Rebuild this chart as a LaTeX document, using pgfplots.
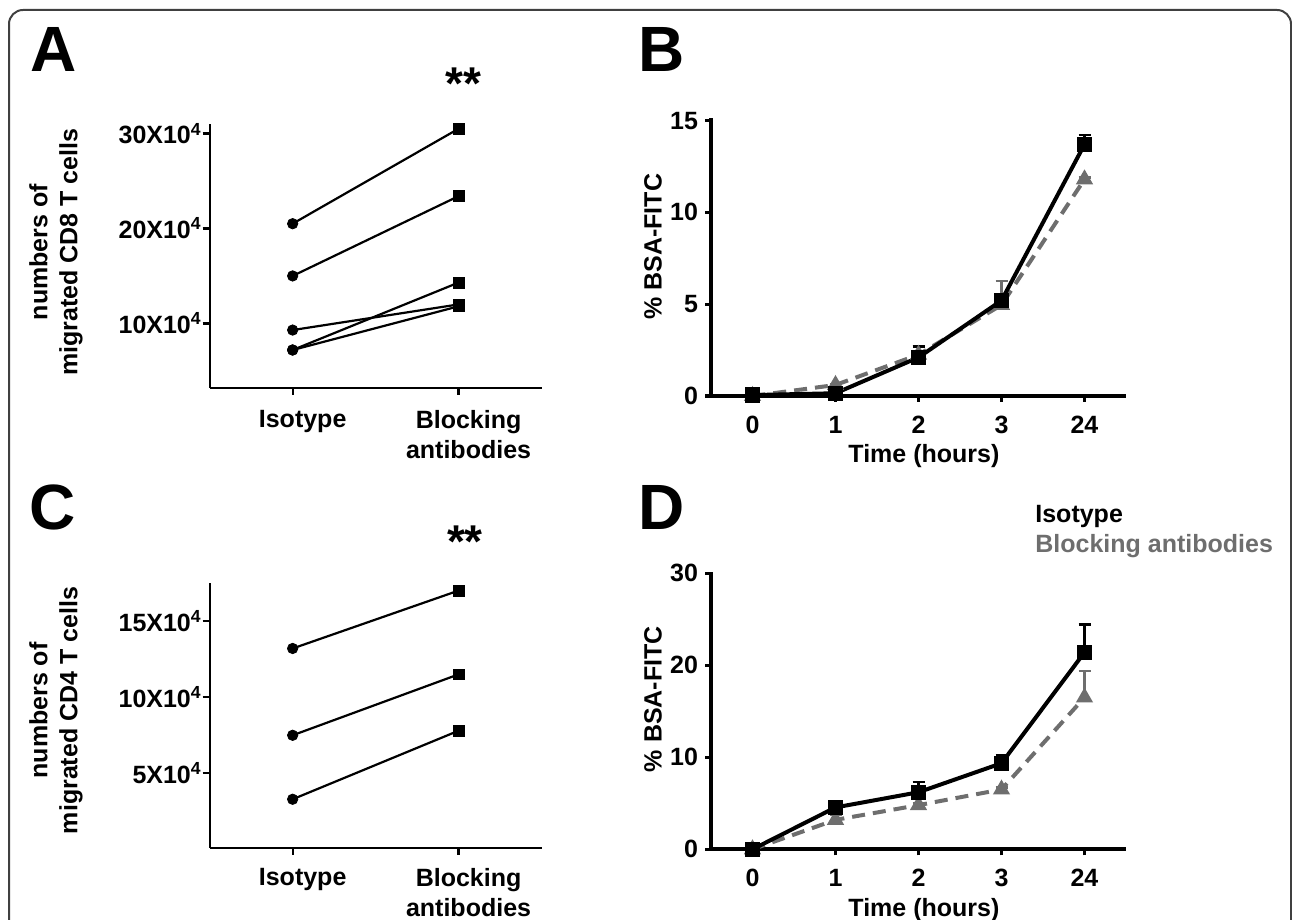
\documentclass[border=0pt]{standalone}
\usepackage{fontspec}
\setmainfont{Liberation Sans}
\usepackage{pgfplots}
\usepackage{pgfplotstable}
\pgfplotsset{compat=1.18}
\definecolor{gr}{RGB}{110,110,110}

% Panel A: paired values (x10^4)
\pgfplotstableread{
iso blk
20.5 30.5
15.0 23.4
9.3 12.0
7.2 14.3
7.2 11.8
}\Adata
% Panel C: paired values (x10^4)
\pgfplotstableread{
iso blk
13.2 17.0
7.5 11.5
3.3 7.8
}\Cdata
% Panel B
\pgfplotstableread{
x y e
0 0.05 0
1 0.15 0.05
2 2.1 0.6
3 5.2 0.15
4 13.7 0.5
}\BIso
\pgfplotstableread{
x y e
0 0.0 0
1 0.6 0.05
2 2.25 0.45
3 4.96 1.3
4 11.8 0.1
}\BBlk
% Panel D
\pgfplotstableread{
x y e
0 0.0 0
1 4.55 0.25
2 6.2 1.1
3 9.35 0.85
4 21.4 3.05
}\DIso
\pgfplotstableread{
x y e
0 0.0 0
1 3.2 0.5
2 4.8 0.2
3 6.5 0.2
4 16.5 2.9
}\DBlk

\pgfplotsset{
  every axis/.append style={font=\fontsize{12.5}{15}\selectfont\bfseries},
  pairaxis/.style={
    scale only axis, anchor=south west, width=165.9pt,
    xmin=-0.5, xmax=1.5, clip=false,
    axis x line=bottom, axis y line=left,
    axis line style={-, line width=1.1pt, black},
    xtick={0,1}, xticklabels={Isotype, Blocking\\antibodies},
    tick align=outside, major tick length=3.5pt,
    tick style={line width=1.1pt, black},
    xticklabel style={align=center, yshift=-4pt, xshift=5pt},
    yticklabel style={xshift=3pt},
    ylabel style={align=center, anchor=center},
  },
  timeaxis/.style={
    scale only axis, anchor=south west, width=207.5pt,
    xmin=-0.5, xmax=4.5, ymin=0, clip=false,
    axis x line=bottom, axis y line=left,
    axis line style={-, line width=2pt, black},
    xtick={0,1,2,3,4}, xticklabels={0,1,2,3,24},
    tick align=outside, major tick length=3pt,
    tick style={line width=1.6pt, black},
    xticklabel style={yshift=-3.5pt},
    xlabel={Time (hours)}, ylabel={\% BSA-FITC},
    xlabel style={at={(axis description cs:0.513,-0.241)}, anchor=base},
  },
  isoplot/.style={black, solid, line width=2pt, mark=square*, mark size=2.8pt,
    error bars/y dir=plus, error bars/y explicit,
    error bars/error bar style={solid, line width=1.2pt, black},
    error bars/error mark options={rotate=90, mark size=3pt, line width=1.2pt, black}},
  blkplot/.style={gr, line width=2pt, dash pattern=on 6.5pt off 4pt,
    mark=triangle*, mark size=3pt, mark options={solid, fill=gr},
    error bars/y dir=plus, error bars/y explicit,
    error bars/error bar style={solid, line width=1.2pt, gr},
    error bars/error mark options={rotate=90, mark size=3pt, line width=1.2pt, gr, solid}},
}

\begin{document}
\begin{tikzpicture}[font=\fontsize{12.5}{15}\selectfont\bfseries]
\useasboundingbox (0,0) rectangle (646pt,460pt);
\begin{scope}
\clip (0,0) rectangle (646pt,460pt);
\draw[line width=1pt, black!75, rounded corners=7pt] (4.5pt,-20pt) rectangle (645.5pt,455pt);
\end{scope}

% ---------- Panel A ----------
\begin{axis}[pairaxis, at={(104.85pt,266pt)}, height=132pt,
  ymin=3.2, ymax=31,
  ytick={10,20,30},
  yticklabels={10X10\textsuperscript{4},20X10\textsuperscript{4},30X10\textsuperscript{4}},
  ylabel={numbers of\\migrated CD8 T cells},
  ylabel style={at={(axis description cs:-0.463,0.515)}},
]
\addplot[black, line width=1.1pt] coordinates {(0,20.5) (1,30.5)};
\addplot[black, line width=1.1pt] coordinates {(0,15.0) (1,23.4)};
\addplot[black, line width=1.1pt] coordinates {(0,9.3) (1,12.0)};
\addplot[black, line width=1.1pt] coordinates {(0,7.2) (1,14.3)};
\addplot[black, line width=1.1pt] coordinates {(0,7.2) (1,11.8)};
\addplot[only marks, black, mark=*, mark size=2.6pt] table[x expr=0, y=iso] {\Adata};
\addplot[only marks, black, mark=square*, mark size=2.7pt] table[x expr=1, y=blk] {\Adata};
\end{axis}

% ---------- Panel C ----------
\begin{axis}[pairaxis, at={(104.85pt,36pt)}, height=132.5pt,
  ymin=0.1, ymax=17.5,
  ytick={5,10,15},
  yticklabels={5X10\textsuperscript{4},10X10\textsuperscript{4},15X10\textsuperscript{4}},
  xticklabel style={yshift=1pt},
  ylabel={numbers of\\migrated CD4 T cells},
  ylabel style={at={(axis description cs:-0.463,0.519)}},
]
\addplot[black, line width=1.1pt] coordinates {(0,13.2) (1,17.0)};
\addplot[black, line width=1.1pt] coordinates {(0,7.5) (1,11.5)};
\addplot[black, line width=1.1pt] coordinates {(0,3.3) (1,7.8)};
\addplot[only marks, black, mark=*, mark size=2.6pt] table[x expr=0, y=iso] {\Cdata};
\addplot[only marks, black, mark=square*, mark size=2.7pt] table[x expr=1, y=blk] {\Cdata};
\end{axis}

% ---------- Panel B ----------
\begin{axis}[timeaxis, at={(355.5pt,262pt)}, height=138.9pt,
  ymax=15.13, ytick={0,5,10,15}, yticklabels={0,5,10,15},
  ylabel style={at={(axis description cs:-0.14,0.537)}, anchor=center},
]
\addplot[blkplot] table[x=x, y=y, y error=e] {\BBlk};
\addplot[isoplot] table[x=x, y=y, y error=e] {\BIso};
\end{axis}

% ---------- Panel D ----------
\begin{axis}[timeaxis, at={(355.5pt,35.35pt)}, height=138.8pt,
  ymax=30.17, ytick={0,10,20,30}, yticklabels={0,10,20,30},
  ylabel style={at={(axis description cs:-0.14,0.541)}, anchor=center},
  legend style={at={(axis description cs:0.7807,1.2453)}, anchor=north west,
    draw=none, fill=none, inner sep=0pt, row sep=3.4pt,
    nodes={inner sep=0pt, text height=9pt, text depth=2.6pt},
    font=\fontsize{12.5}{15}\selectfont\bfseries},
  legend cell align=left,
]
\addplot[forget plot, blkplot] table[x=x, y=y, y error=e] {\DBlk};
\addplot[forget plot, isoplot] table[x=x, y=y, y error=e] {\DIso};
\addlegendimage{empty legend}
\addlegendentry{\textcolor{black}{Isotype}}
\addlegendimage{empty legend}
\addlegendentry{\textcolor{gr}{Blocking antibodies}}
\end{axis}

% panel letters and significance marks
\node[anchor=base west, inner sep=0pt, font=\fontsize{32}{32}\selectfont\bfseries] at (15.3pt,424.2pt) {A};
\node[anchor=base west, inner sep=0pt, font=\fontsize{32}{32}\selectfont\bfseries] at (319pt,424.2pt) {B};
\node[anchor=base west, inner sep=0pt, font=\fontsize{32}{32}\selectfont\bfseries] at (14.5pt,195pt) {C};
\node[anchor=base west, inner sep=0pt, font=\fontsize{32}{32}\selectfont\bfseries] at (319pt,195pt) {D};
\node[anchor=base, inner sep=0pt, font=\fontsize{23}{23}\selectfont\bfseries] at (231.7pt,410.2pt) {**};
\node[anchor=base, inner sep=0pt, font=\fontsize{23}{23}\selectfont\bfseries] at (232.5pt,181pt) {**};
\end{tikzpicture}
\end{document}
